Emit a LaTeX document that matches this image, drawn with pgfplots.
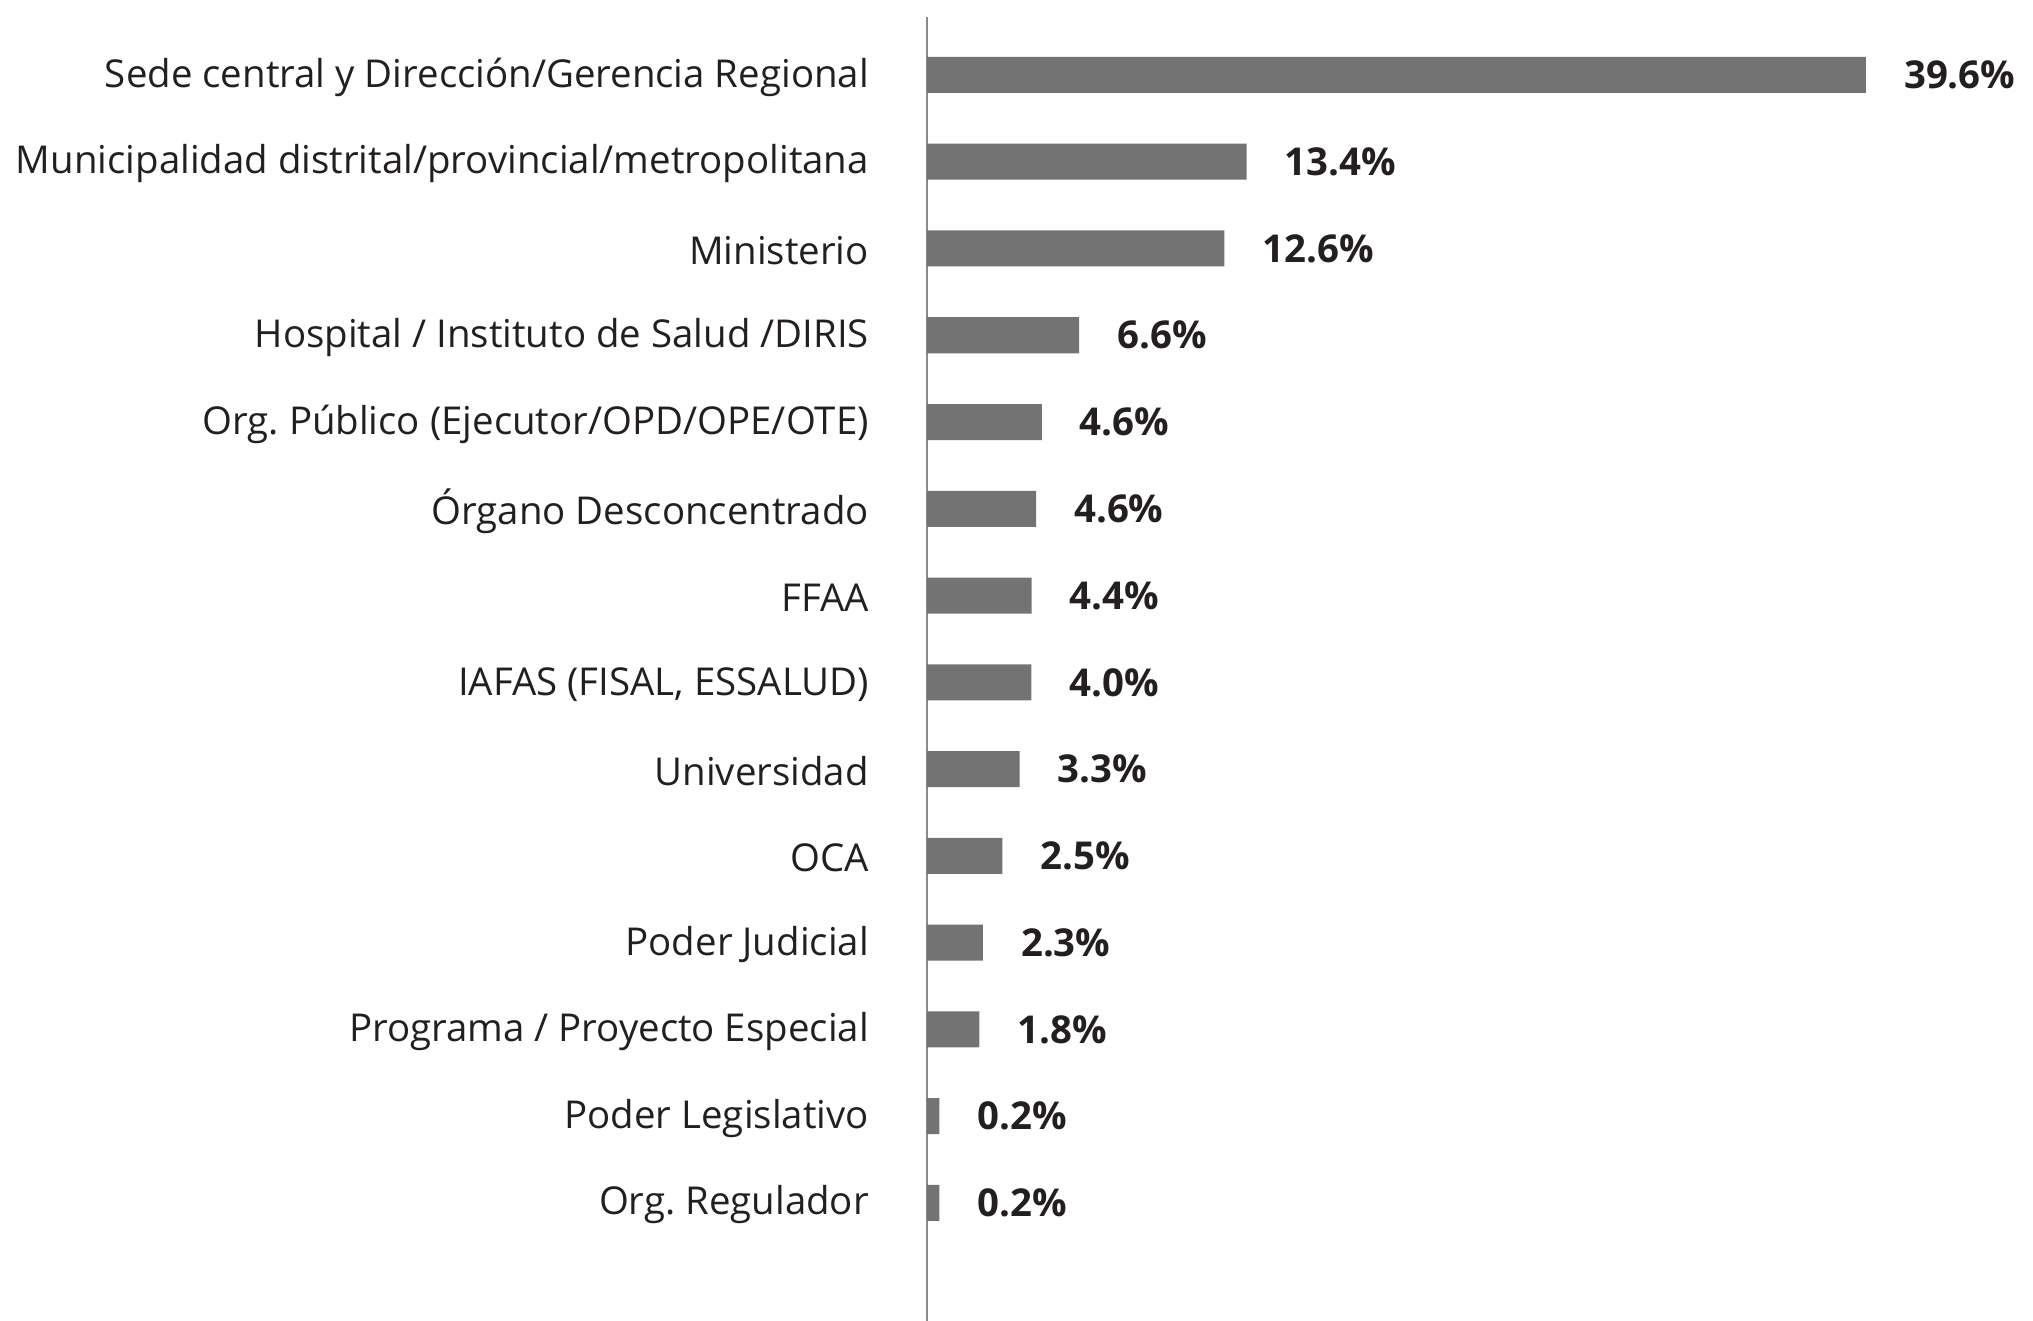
\documentclass[border=0pt]{standalone}
\usepackage{pgfplots}
\pgfplotsset{compat=1.18}
\usepackage{fontspec}
\setmainfont{Open Sans}
\frenchspacing
\definecolor{barc}{HTML}{737373}
\definecolor{txt}{HTML}{231F20}
\definecolor{axc}{HTML}{8A8A8A}
\begin{document}
\begin{tikzpicture}
\begin{axis}[
  name=ax,
  scale only axis,
  width=266.75pt, height=326pt,
  xbar, bar width=0.415,
  xmin=0, xmax=45,
  ymin=-1.36, ymax=13.668,
  axis x line=none,
  axis y line*=left,
  axis line style={draw=axc, line width=0.6pt},
  y axis line style={-},
  ytick={0,...,13},
  yticklabels={Org. Regulador, Poder Legislativo, Programa / Proyecto Especial, Poder Judicial, OCA, Universidad, {IAFAS (FISAL, ESSALUD)}, FFAA, Órgano Desconcentrado, Org. Público (Ejecutor/OPD/OPE/OTE), Hospital / Instituto de Salud /DIRIS, Ministerio, Municipalidad distrital/provincial/metropolitana, Sede central y Dirección/Gerencia Regional},
  major tick length=0pt,
  yticklabel style={font=\fontsize{9.6pt}{11.5pt}\selectfont\frenchspacing, text=txt, xshift=-11pt, yshift=-0.5pt},
  point meta=explicit symbolic,
  nodes near coords={\pgfplotspointmeta},
  nodes near coords style={font=\fontsize{9.6pt}{11.5pt}\selectfont\bfseries, text=txt, anchor=west, xshift=6pt},
  clip=false,
]
\addplot[fill=barc, draw=none] coordinates {
(0.52,0) [0.2\%]
(0.52,1) [0.2\%]
(2.21,2) [1.8\%]
(2.36,3) [2.3\%]
(3.18,4) [2.5\%]
(3.91,5) [3.3\%]
(4.40,6) [4.0\%]
(4.41,7) [4.4\%]
(4.60,8) [4.6\%]
(4.84,9) [4.6\%]
(6.42,10) [6.6\%]
(12.54,11) [12.6\%]
(13.48,12) [13.4\%]
(39.6,13) [39.6\%]
};
\end{axis}
\pgfresetboundingbox
\path ([xshift=-231.75pt]ax.south west) rectangle ([xshift=9.75pt,yshift=4.25pt]ax.north east);
\end{tikzpicture}
\end{document}
